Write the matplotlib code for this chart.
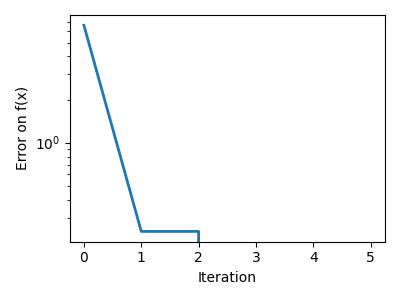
import numpy as np
import matplotlib.pyplot as plt

# Error per iteration (zeros drop off the log axis)
iterations = [0, 1, 2, 3, 4, 5]
errors = [6.6, 0.24, 0.24, 0.0, 0.0, 0.0]

plt.figure(figsize=(4, 3), dpi=100)
plt.semilogy(iterations, errors, linewidth=2)
plt.xlabel("Iteration")
plt.ylabel("Error on f(x)")
plt.tight_layout()
plt.savefig("out.png")
